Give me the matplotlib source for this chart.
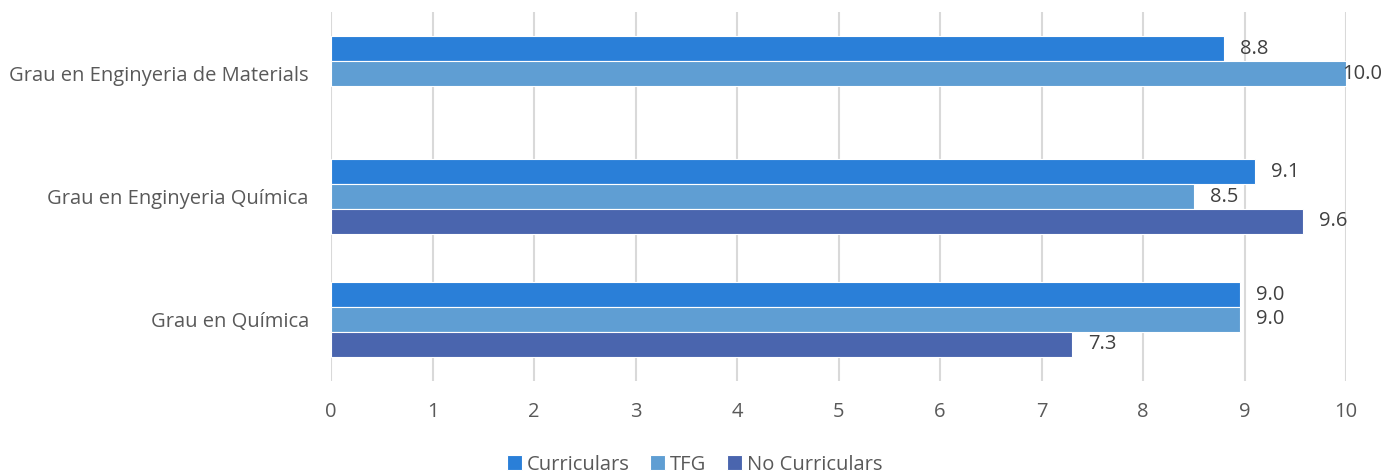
import numpy as np
import matplotlib.pyplot as plt

# dades
graus = ["Grau en Enginyeria de Materials", "Grau en Enginyeria Química", "Grau en Química"]
series = ["Curriculars", "TFG", "No Curriculars"]
curriculars = [8.8, 9.1, 8.96]
tfg = [10.0, 8.5, 8.96]
no_curriculars = [np.nan, 9.58, 7.3]
colors = ["#2A7FD8", "#5F9ED3", "#4A65AE"]

plt.rcParams['font.family'] = ['Open Sans', 'DejaVu Sans']
fs = 14.5

fig = plt.figure(figsize=(13.81, 4.75), dpi=100)
ax = fig.add_axes([0.2397, 0.198, 0.735, 0.7765])

y = np.arange(len(graus))
h = 0.203
valors = [curriculars, tfg, no_curriculars]
for i, (vals, nom, c) in enumerate(zip(valors, series, colors)):
    pos = y + (i - 1) * h
    ax.barh(pos, vals, height=h, color=c, edgecolor="white", linewidth=0.8, label=nom, zorder=3)
    for p, v in zip(pos, vals):
        if np.isnan(v):
            continue
        off = 11.5 if v < 10 else -2.5
        ax.annotate(f"{v:.1f}", (v, p), xytext=(off, 0), textcoords="offset points",
                    ha="left", va="center", fontsize=fs, color="#404040",
                    annotation_clip=False)

ax.set_xlim(0, 10)
ax.set_ylim(2.5, -0.5)
ax.set_xticks(range(11))
ax.set_yticks(y)
ax.set_yticklabels(graus)
ax.tick_params(length=0, labelsize=fs, colors="#595959")
ax.tick_params(axis="y", pad=16)
ax.tick_params(axis="x", pad=15)
ax.grid(axis="x", color="#D9D9D9", linewidth=1.5, zorder=0)
for s in ax.spines.values():
    s.set_visible(False)

fig.legend(*ax.get_legend_handles_labels(), loc="center", bbox_to_anchor=(0.503, 0.022),
           ncol=3, frameon=False, fontsize=fs, labelcolor="#595959",
           handlelength=0.75, handleheight=0.75, handletextpad=0.25,
           columnspacing=1.0, borderaxespad=0)

fig.savefig("out.png", dpi=100)
